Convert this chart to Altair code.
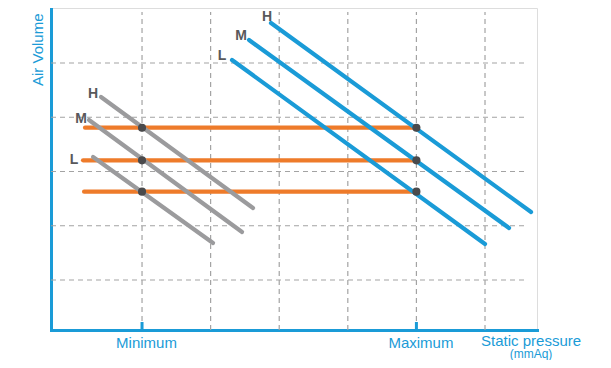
import altair as alt
import pandas as pd

# ---------------- data (schematic units: one grid step = 1) ----------------
X_MIN, X_MAX = 0.673, 7.758
Y_MIN, Y_MAX = 0.078, 6.014

v_grid = [2, 3, 4, 5, 6, 7]
h_grid = [1, 2, 3, 4, 5]
grid_top = 5.94
grid_right = 7.612
tick_top = 0.226

tick_values = [2, 6]
tick_labels = ["Minimum", "Maximum"]

speed_names = ["H", "M", "L"]

# grey (low-pressure) fan curves
gray_x_start = [1.402, 1.227, 1.286]
gray_y_start = [4.373, 3.949, 3.267]
gray_x_end = [3.618, 3.458, 3.035]
gray_y_end = [2.327, 1.885, 1.682]
gray_label_x = [1.286, 1.111, 1.009]
gray_label_y = [4.429, 3.968, 3.212]

# blue (high-pressure) fan curves
blue_x_start = [3.880, 3.560, 3.312]
blue_y_start = [5.737, 5.424, 5.055]
blue_x_end = [7.671, 7.350, 7.000]
blue_y_end = [2.253, 1.959, 1.664]
blue_label_x = [3.822, 3.443, 3.166]
blue_label_y = [5.855, 5.498, 5.129]

# orange constant air-volume lines
orange_y = [3.807, 3.206, 2.628]
orange_x_start = [1.169, 1.140, 1.155]
orange_x_end = [6, 6, 6]

x_title_lines = ["Static pressure", "(mmAq)"]
x_title_x = [7.671, 7.671]
x_title_y = [-0.124, -0.373]
x_title_size = [15, 12]

# ---------------- styling ----------------
BLUE = "#1A9BD7"
ORANGE = "#EE7B2A"
GRAY = "#9B9B9D"
DOT = "#4A4A4C"
LABEL = "#58595B"
GRID = "#A3A3A3"
FONT = "Liberation Sans"

# ---------------- tables ----------------
def segments(group, xs0, ys0, xs1, ys1):
    return pd.DataFrame({"group": group, "x": xs0, "y": ys0, "x2": xs1, "y2": ys1})

orange_df = segments("orange", orange_x_start, orange_y, orange_x_end, orange_y)
gray_df = segments("gray", gray_x_start, gray_y_start, gray_x_end, gray_y_end)
blue_df = segments("blue", blue_x_start, blue_y_start, blue_x_end, blue_y_end)

dots = pd.DataFrame([{"x": tx, "y": oy} for oy in orange_y for tx in tick_values])

labels = pd.DataFrame(
    [{"x": gray_label_x[i], "y": gray_label_y[i], "t": n} for i, n in enumerate(speed_names)]
    + [{"x": blue_label_x[i], "y": blue_label_y[i], "t": n} for i, n in enumerate(speed_names)]
)

vgrid = pd.DataFrame({"x": v_grid, "y": [Y_MIN] * len(v_grid), "y2": [grid_top] * len(v_grid)})
hgrid = pd.DataFrame({"y": h_grid, "x": [X_MIN] * len(h_grid), "x2": [grid_right] * len(h_grid)})
ticks = pd.DataFrame({"x": tick_values, "y": [Y_MIN] * len(tick_values), "y2": [tick_top] * len(tick_values)})
xtitle = pd.DataFrame({"x": x_title_x, "y": x_title_y, "t": x_title_lines, "s": x_title_size})

# ---------------- scales / axes ----------------
label_expr = "''"
for v, l in zip(reversed(tick_values), reversed(tick_labels)):
    label_expr = f"datum.value == {v} ? '{l}' : ({label_expr})"

xs = alt.Scale(domain=[X_MIN, X_MAX], nice=False, zero=False)
ys = alt.Scale(domain=[Y_MIN, Y_MAX], nice=False, zero=False)

x_axis = alt.Axis(values=tick_values, labelExpr=label_expr, ticks=False, tickSize=0,
                  grid=False, domainColor=BLUE, domainWidth=3, domainCap="square",
                  labelColor=BLUE, labelFontSize=15, labelFont=FONT, labelPadding=5,
                  labelOffset=4, title=None)
y_axis = alt.Axis(ticks=False, tickSize=0, labels=False, grid=False, domainColor=BLUE,
                  domainWidth=3, domainCap="square", title="Air Volume", titleColor=BLUE,
                  titleFontSize=15, titleFont=FONT, titleFontWeight="normal",
                  titleAngle=270, titleX=-13.5, titleY=5, titleAlign="right",
                  titleBaseline="middle")

X = lambda f="x": alt.X(f + ":Q", scale=xs, axis=x_axis)
Y = lambda f="y": alt.Y(f + ":Q", scale=ys, axis=y_axis)

vgrid_layer = alt.Chart(vgrid).mark_rule(color=GRID, strokeWidth=1.2, strokeDash=[5, 4]).encode(
    x=X(), y=Y(), y2="y2:Q")
hgrid_layer = alt.Chart(hgrid).mark_rule(color=GRID, strokeWidth=1.2, strokeDash=[5, 4]).encode(
    x=X(), x2="x2:Q", y=Y())
tick_layer = alt.Chart(ticks).mark_rule(color=BLUE, strokeWidth=3).encode(
    x=X(), y=Y(), y2="y2:Q")

def seg_layer(df, color):
    return alt.Chart(df).mark_rule(strokeWidth=4.2, strokeCap="round", color=color).encode(
        x=X(), y=Y(), x2="x2:Q", y2="y2:Q")

orange_layer = seg_layer(orange_df, ORANGE)
gray_layer = seg_layer(gray_df, GRAY)
blue_layer = seg_layer(blue_df, BLUE)

dot_layer = alt.Chart(dots).mark_point(filled=True, size=66, color=DOT, opacity=1).encode(
    x=X(), y=Y())

label_layer = alt.Chart(labels).mark_text(font=FONT, fontSize=14, fontWeight="bold",
                                          color=LABEL, align="center", baseline="middle").encode(
    x=X(), y=Y(), text="t:N")

xtitle_layer = alt.Chart(xtitle).mark_text(font=FONT, color=BLUE, align="center",
                                           baseline="middle").encode(
    x=X(), y=Y(), text="t:N", size=alt.Size("s:Q", scale=None, legend=None))

chart = alt.layer(
    vgrid_layer, hgrid_layer, orange_layer, gray_layer, blue_layer, dot_layer,
    tick_layer, label_layer, xtitle_layer
).properties(
    width=486, height=322,
    padding={"left": 43, "top": 0, "right": 66, "bottom": 30},
    autosize=alt.AutoSizeParams(type="none"),
).configure_view(stroke=None).configure(background="white")

chart.save("out.html", embed_options={"renderer": "svg", "actions": False})
